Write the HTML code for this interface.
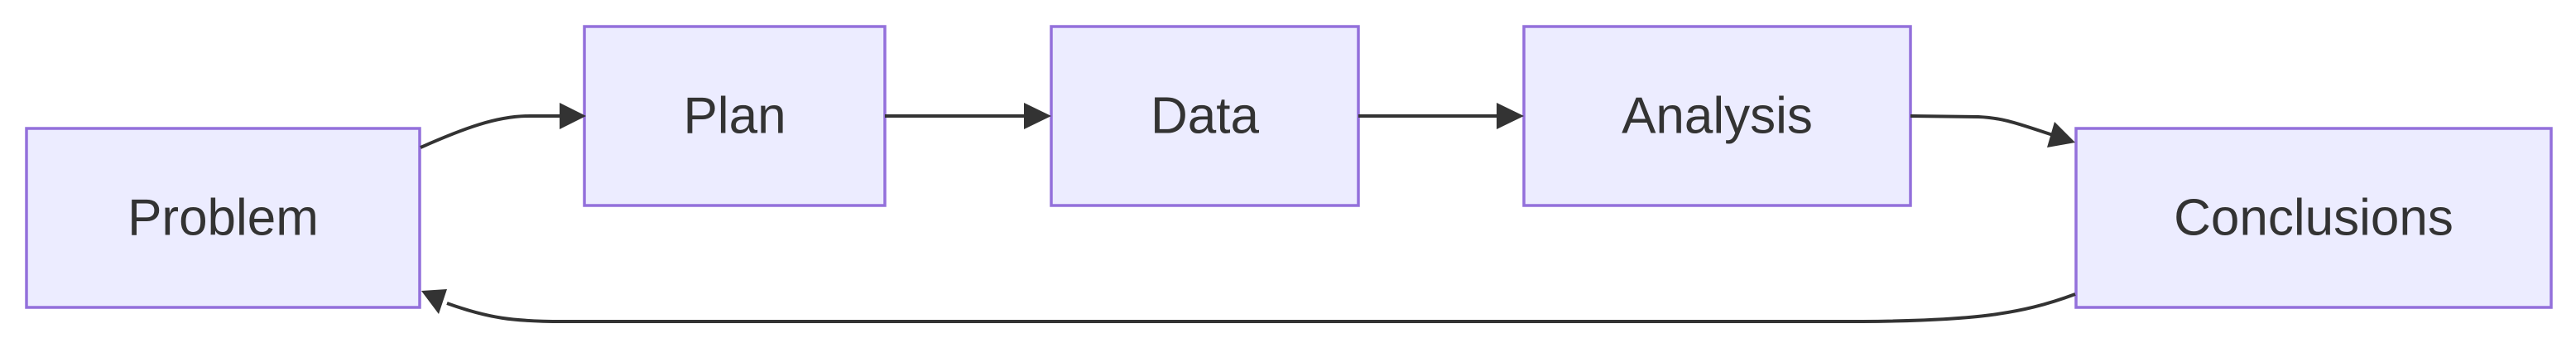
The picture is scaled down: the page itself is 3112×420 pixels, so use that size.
<!DOCTYPE html>
<html><head><meta charset="utf-8"><style>
html,body{margin:0;padding:0;background:#fff;width:3112px;height:420px;overflow:hidden}
svg{display:block}
text{font-family:"Liberation Sans",sans-serif;font-size:62px;fill:#333}
</style></head><body>
<svg width="3112" height="420" viewBox="0 0 3112 420" xmlns="http://www.w3.org/2000/svg">
<g fill="#ECECFF" stroke="#9370DB" stroke-width="3.5">
<rect x="32" y="155" width="475" height="216"/>
<rect x="706" y="32" width="363" height="216"/>
<rect x="1270" y="32" width="371" height="216"/>
<rect x="1841" y="32" width="467" height="216"/>
<rect x="2508" y="155" width="574" height="216"/>
</g>
<g fill="none" stroke="#333" stroke-width="4">
<path d="M508,178 C560,155 600,140 640,140 L680,140"/>
<path d="M1069,140 L1240,140"/>
<path d="M1641,140 L1811,140"/>
<path d="M2308,140 L2390,141 C2420,142 2440,150 2480,163"/>
<path d="M2507,355 C2440,380 2380,387 2250,388 L680,388 C620,388 590,384 540,366"/>
</g>
<g fill="#333">
<polygon points="676,124 708,140 676,156"/>
<polygon points="1237,124 1270,140 1237,156"/>
<polygon points="1808,124 1841,140 1808,156"/>
<polygon points="2507,172 2482,147 2473,178"/>
<polygon points="509,351 540,349 530,379"/>
</g>
<g text-anchor="middle" dominant-baseline="central">
<text x="269.5" y="263">Problem</text>
<text x="887.5" y="140">Plan</text>
<text x="1455.5" y="140">Data</text>
<text x="2074.5" y="140">Analysis</text>
<text x="2795" y="263">Conclusions</text>
</g>
</svg>
</body></html>
